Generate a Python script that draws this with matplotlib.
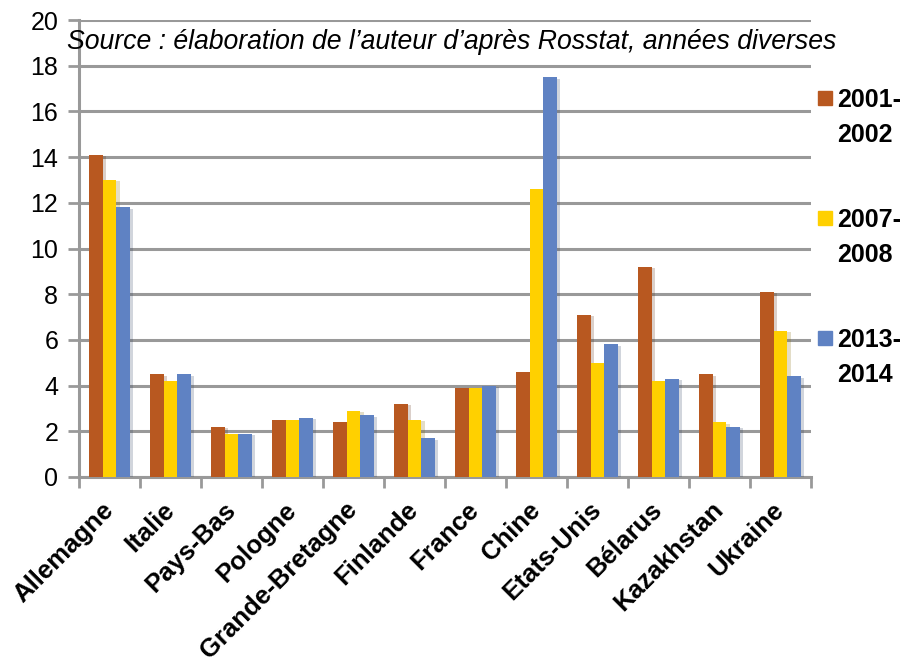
import numpy as np
import matplotlib.pyplot as plt
import matplotlib.patheffects as pe
from matplotlib.patches import Rectangle

plt.rcParams['font.family'] = ['Liberation Sans', 'DejaVu Sans']

# Données
pays = ["Allemagne", "Italie", "Pays-Bas", "Pologne", "Grande-Bretagne", "Finlande",
        "France", "Chine", "Etats-Unis", "Bélarus", "Kazakhstan", "Ukraine"]
v_2001 = [14.1, 4.5, 2.2, 2.5, 2.4, 3.2, 3.9, 4.6, 7.1, 9.2, 4.5, 8.1]
v_2007 = [13.0, 4.2, 1.9, 2.5, 2.9, 2.5, 3.9, 12.6, 5.0, 4.2, 2.4, 6.4]
v_2013 = [11.8, 4.5, 1.9, 2.6, 2.7, 1.7, 4.0, 17.5, 5.8, 4.3, 2.2, 4.4]
periodes = [("2001-", "2002"), ("2007-", "2008"), ("2013-", "2014")]
couleurs = ["#B85820", "#FFD000", "#5F82C3"]

W, H = 908, 662
fig = plt.figure(figsize=(W / 100, H / 100), dpi=100)
ax = fig.add_axes([79 / W, 1 - 477 / H, 732 / W, 457 / H])

x = np.arange(len(pays))
w = 0.22
ombre = [pe.SimplePatchShadow(offset=(2.5, -1), alpha=0.22, rho=0.5), pe.Normal()]
for k, (vals, c) in enumerate(zip([v_2001, v_2007, v_2013], couleurs)):
    bars = ax.bar(x + (k - 1) * w, vals, w, color=c, zorder=3)
    for b in bars:
        b.set_path_effects(ombre)

ax.set_xlim(-0.5, len(pays) - 0.5)
ax.set_ylim(0, 20)
ax.set_yticks(range(0, 21, 2))
ax.tick_params(axis="y", labelsize=18, length=8, width=2, color="#999999", pad=7)
ax.set_xticks(x)
ax.set_xticklabels(pays, rotation=45, ha="right", va="center", rotation_mode="anchor",
                   fontsize=18.5, fontweight="bold")
ax.tick_params(axis="x", length=0, pad=21)
# ticks entre catégories
ax.set_xticks(np.arange(-0.5, len(pays) + 0.5, 1), minor=True)
ax.tick_params(axis="x", which="minor", length=8, width=2, color="#999999")

ax.grid(axis="y", color="#999999", linewidth=2.2, zorder=0)
for s in ["top", "right"]:
    ax.spines[s].set_visible(False)
for s in ["left", "bottom"]:
    ax.spines[s].set_color("#999999")
    ax.spines[s].set_linewidth(2.2)

ax.text(0.509, 19.05, "Source : élaboration de l’auteur d’après Rosstat, années diverses",
        transform=ax.get_yaxis_transform(), ha="center", va="center",
        fontsize=19.2, style="italic", zorder=5)

# légende dessinée à la main (carré aligné sur la première ligne)
for k, ((l1, l2), c) in enumerate(zip(periodes, couleurs)):
    base = 107 + 120 * k
    fig.add_artist(Rectangle((818 / W, 1 - (base - 2) / H), 14 / W, 14 / H,
                             transform=fig.transFigure, color=c))
    fig.text(837 / W, 1 - base / H, l1, fontsize=18, fontweight="bold", va="baseline")
    fig.text(837 / W, 1 - (base + 35) / H, l2, fontsize=18, fontweight="bold", va="baseline")

fig.savefig("out.png", dpi=100)
